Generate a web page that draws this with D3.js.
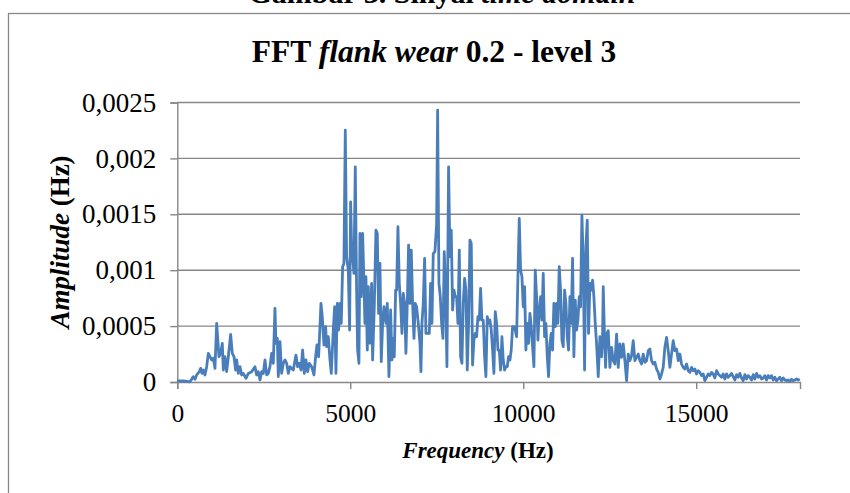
<!DOCTYPE html>
<html>
<head>
<meta charset="utf-8">
<script src="https://cdn.jsdelivr.net/npm/d3@7"></script>
<style>
  body { margin: 0; background: #fff; }
  text { font-family: "Liberation Serif", "Times New Roman", serif; fill: #000; }
</style>
</head>
<body>
<div id="chart"></div>
<script>
// frequency (Hz) and amplitude
var freqHz = [
  0, 174, 367, 463, 511, 560, 637, 675, 714, 752, 800, 849, 897, 945, 993, 1041, 1089, 1138, 1205, 1253,
  1301, 1330, 1378, 1427, 1475, 1542, 1590, 1639, 1687, 1716, 1764, 1812, 1860, 1908, 1985, 2053, 2149, 2245, 2294, 2342,
  2390, 2438, 2486, 2535, 2583, 2631, 2679, 2727, 2775, 2823, 2852, 2891, 2920, 2968, 3016, 3064, 3113, 3161, 3209, 3257,
  3353, 3430, 3478, 3527, 3575, 3623, 3671, 3719, 3767, 3816, 3883, 3950, 3999, 4037, 4085, 4124, 4153, 4191, 4239, 4288,
  4317, 4365, 4413, 4451, 4509, 4548, 4586, 4625, 4663, 4702, 4740, 4779, 4817, 4856, 4894, 4943, 4981, 5010, 5039, 5068,
  5106, 5145, 5183, 5212, 5251, 5280, 5318, 5357, 5386, 5424, 5453, 5492, 5521, 5569, 5617, 5646, 5694, 5742, 5781, 5819,
  5858, 5896, 5935, 5973, 6031, 6070, 6118,
  6166, 6205, 6243, 6272, 6311, 6340, 6378, 6417, 6455, 6494, 6532, 6571, 6609, 6648, 6686, 6725, 6763, 6802, 6841, 6879,
  6918, 6966, 7014, 7043, 7072, 7110, 7149, 7187, 7236, 7284, 7322, 7361, 7399, 7447, 7496, 7525, 7563, 7602, 7640, 7679,
  7717, 7756, 7794, 7842, 7881, 7919, 7958, 7997, 8035, 8074, 8112, 8151, 8189, 8228, 8266, 8305, 8343, 8382, 8420, 8459,
  8497, 8536, 8574, 8613, 8652, 8690, 8729, 8767, 8806, 8844, 8883, 8921, 8960, 8998, 9037, 9075, 9114, 9152, 9191, 9230,
  9268, 9307, 9345, 9384, 9422, 9461, 9499, 9538, 9576, 9615, 9653, 9692, 9730, 9769, 9808, 9846, 9885, 9923, 9962, 10000,
  10039, 10077, 10116, 10154, 10193, 10231, 10270, 10309, 10347, 10386, 10424, 10463, 10501, 10540, 10578, 10617, 10655, 10694, 10732, 10771,
  10809, 10848, 10886, 10925, 10963, 11002, 11040, 11079, 11118, 11156, 11195, 11233, 11272, 11310, 11349, 11387, 11426, 11464, 11503, 11541,
  11580, 11618, 11657, 11696, 11734, 11773, 11811, 11850, 11888, 11927, 11965, 12004, 12042, 12081, 12119, 12168,
  12216, 12264, 12293, 12312, 12351,
  12380, 12409, 12457, 12505, 12553, 12601, 12649, 12698, 12746, 12794, 12842, 12890, 12938, 12987, 13035, 13083, 13131, 13179, 13227, 13276,
  13324, 13372, 13420, 13468, 13516, 13565, 13613, 13661, 13709, 13757, 13805, 13854, 13902, 13950, 13998, 14046, 14094, 14143, 14191, 14239,
  14287, 14335, 14383, 14432, 14480, 14528, 14576, 14624, 14672, 14721, 14769, 14817, 14865, 14913, 14961, 15010, 15058, 15106, 15154, 15202,
  15250, 15299, 15347, 15395, 15443, 15491, 15539, 15588, 15636, 15684, 15732, 15780, 15828, 15877, 15925, 15973, 16021, 16069, 16117, 16166,
  16214, 16262, 16310, 16358, 16406, 16455, 16503, 16551, 16599, 16647, 16695, 16744, 16792, 16840, 16888, 16936, 16984, 17032, 17081, 17129,
  17177, 17225, 17273, 17321, 17370, 17418, 17466, 17514, 17562, 17610, 17658, 17707, 17755, 17803, 17851, 17899, 17947, 17996
];

var amplitude = [
  0.000009, 0.000009, 0.000002, 0.000048, 0.000024, 0.000063, 0.000092, 0.000122, 0.000077, 0.000107, 0.000063, 0.000137, 0.000256, 0.000226, 0.000197, 0.000212, 0.000122, 0.000524, 0.000226, 0.000256,
  0.000346, 0.000107, 0.000226, 0.000092, 0.000226, 0.000426, 0.000256, 0.000226, 0.000107, 0.000197, 0.000077, 0.000137, 0.000063, 0.000077, 0.000033, 0.000077, 0.000092, 0.000137, 0.000063, 0.000092,
  0.000018, 0.000092, 0.000077, 0.000197, 0.000063, 0.000077, 0.000137, 0.000256, 0.000167, 0.000659, 0.000346, 0.000390, 0.000048, 0.000361, 0.000077, 0.000167, 0.000197, 0.000167, 0.000077, 0.000137,
  0.000107, 0.000241, 0.000137, 0.000167, 0.000107, 0.000286, 0.000077, 0.000197, 0.000092, 0.000167, 0.000137, 0.000063, 0.000226, 0.000331, 0.000226, 0.000495, 0.000703, 0.000584, 0.000331, 0.000495,
  0.000316, 0.000405, 0.000197, 0.000077, 0.000465, 0.000673, 0.000077, 0.000703, 0.000465, 0.000703, 0.000524, 0.001031, 0.001061, 0.002253, 0.001120, 0.001001, 0.000465, 0.001612, 0.001210, 0.001120,
  0.000971, 0.001925, 0.000822, 0.000286, 0.000167, 0.001329, 0.000763, 0.001329, 0.001001, 0.000524, 0.000942, 0.000286, 0.000852, 0.000346, 0.000882, 0.000197, 0.000673, 0.001359, 0.001329, 0.000614,
  0.001061, 0.000182, 0.000524, 0.000673, 0.000524, 0.000703, 0.000048,
  0.000644, 0.000197, 0.000390, 0.000226, 0.000822, 0.000822, 0.001389, 0.000882, 0.000703, 0.000435, 0.000793, 0.000703, 0.000256, 0.000703, 0.001225, 0.000703, 0.001180, 0.000703, 0.000390, 0.000703,
  0.000673, 0.000524, 0.000346, 0.000092, 0.000524, 0.000703, 0.001106, 0.000435, 0.000435, 0.000435, 0.000882, 0.000524, 0.001150, 0.001165, 0.001418, 0.002432, 0.000882, 0.000763, 0.000524, 0.000390,
  0.001165, 0.000822, 0.000137, 0.001925, 0.001120, 0.001359, 0.000644, 0.000822, 0.000763, 0.000763, 0.000524, 0.001180, 0.000226, 0.000167, 0.000703, 0.000927, 0.000822, 0.000107, 0.000524, 0.001269,
  0.001240, 0.000152, 0.000375, 0.000435, 0.000405, 0.000584, 0.000554, 0.000837, 0.000554, 0.000554, 0.000226, 0.000048, 0.000584, 0.000524, 0.000554, 0.000465, 0.000286, 0.000077, 0.000629, 0.000524,
  0.000286, 0.000286, 0.000107, 0.000405, 0.000197, 0.000107, 0.000137, 0.000137, 0.000226, 0.000197, 0.000286, 0.000495, 0.000495, 0.000465, 0.000405, 0.000942, 0.001463, 0.001001, 0.000942, 0.000673,
  0.000852, 0.000286, 0.000524, 0.000346, 0.000614, 0.000495, 0.000316, 0.000137, 0.001001, 0.000763, 0.000375, 0.000644, 0.000763, 0.000554, 0.000971, 0.000405, 0.000524, 0.000226, 0.000048, 0.000346,
  0.000435, 0.000286, 0.000703, 0.000495, 0.000703, 0.000524, 0.001031, 0.000822, 0.000375, 0.000316, 0.000822, 0.000703, 0.000405, 0.000286, 0.000763, 0.000524, 0.001106, 0.000226, 0.000733, 0.000465,
  0.000554, 0.000763, 0.000673, 0.001493, 0.001061, 0.000107, 0.001210, 0.001448, 0.000435, 0.000882, 0.000822, 0.000912, 0.000763, 0.000524, 0.000346, 0.000048,
  0.000405, 0.000226, 0.000405, 0.000852, 0.000375,
  0.000131, 0.000429, 0.000459, 0.000131, 0.000310, 0.000191, 0.000161, 0.000429, 0.000131, 0.000340, 0.000221, 0.000340, 0.000191, 0.000012, 0.000250, 0.000191, 0.000235, 0.000370, 0.000191, 0.000221,
  0.000250, 0.000191, 0.000161, 0.000250, 0.000176, 0.000191, 0.000280, 0.000295, 0.000191, 0.000161, 0.000176, 0.000116, 0.000086, 0.000027, 0.000072, 0.000131, 0.000310, 0.000399, 0.000280, 0.000131,
  0.000250, 0.000370, 0.000280, 0.000295, 0.000191, 0.000250, 0.000161, 0.000131, 0.000116, 0.000161, 0.000101, 0.000086, 0.000131, 0.000101, 0.000116, 0.000072, 0.000101, 0.000086, 0.000057, 0.000072,
  0.000012, 0.000042, 0.000072, 0.000057, 0.000086, 0.000072, 0.000036, 0.000101, 0.000072, 0.000057, 0.000042, 0.000072, 0.000027, 0.000072, 0.000042, 0.000057, 0.000077, 0.000048, 0.000018, 0.000066,
  0.000042, 0.000077, 0.000036, 0.000012, 0.000066, 0.000027, 0.000057, 0.000042, 0.000018, 0.000066, 0.000027, 0.000077, 0.000042, 0.000057, 0.000027, 0.000036, 0.000057, 0.000018, 0.000057, 0.000036,
  0.000057, 0.000018, 0.000042, 0.000012, 0.000027, 0.000042, 0.000012, 0.000036, 0.000018, 0.000012, 0.000018, 0.000006, 0.000024, 0.000012, 0.000018, 0.000027, 0.000018, 0.000024
];

var xTicks = [0, 5000, 10000, 15000];
var xTickLabels = ['0', '5000', '10000', '15000'];
var yTicks = [0, 0.0005, 0.001, 0.0015, 0.002, 0.0025];
var yTickLabels = ['0', '0,0005', '0,001', '0,0015', '0,002', '0,0025'];

var width = 850, height = 493;
var margin = { left: 177.3, right: 50, top: 102.5, bottom: 111 };
var gridColor = '#878787';
var lineColor = '#4a7ebb';

var svg = d3.select('#chart')
  .append('svg')
    .attr('width', width)
    .attr('height', height);

// caption of the figure above, cut off by the page edge
svg.append('text')
  .attr('x', 442)
  .attr('y', 3)
  .attr('text-anchor', 'middle')
  .style('font-size', '30px')
  .style('font-weight', 'bold')
  .call(function(t) {
    t.append('tspan').text('Gambar 3. Sinyal ');
    t.append('tspan').style('font-style', 'italic').text('time domain');
  });

// chart area border
svg.append('rect')
  .attr('x', 8.5)
  .attr('y', 13.5)
  .attr('width', 850)
  .attr('height', 500)
  .attr('fill', 'none')
  .attr('stroke', gridColor)
  .attr('stroke-width', 1.3);

var x = d3.scaleLinear()
  .domain([0, 18000])
  .range([margin.left, width - margin.right]);

var y = d3.scaleLinear()
  .domain([0, 0.0025])
  .range([height - margin.bottom, margin.top]);

// horizontal gridlines
svg.append('g')
  .attr('class', 'grid')
  .selectAll('line')
  .data(yTicks.slice(1))
  .enter()
    .append('line')
      .attr('x1', x(0))
      .attr('x2', x(18000))
      .attr('y1', function(d) { return y(d); })
      .attr('y2', function(d) { return y(d); })
      .attr('stroke', gridColor)
      .attr('stroke-width', 1.4);

var yAxis = svg.append('g')
  .attr('transform', 'translate(' + x(0) + ',0)')
  .call(d3.axisLeft(y)
    .tickValues(yTicks)
    .tickSize(7)
    .tickPadding(14)
    .tickFormat(function(d, i) { return yTickLabels[i]; }));

var xAxis = svg.append('g')
  .attr('transform', 'translate(0,' + y(0) + ')')
  .call(d3.axisBottom(x)
    .tickValues(xTicks)
    .tickSize(7)
    .tickPadding(15)
    .tickFormat(function(d, i) { return xTickLabels[i]; }));

[xAxis, yAxis].forEach(function(ax) {
  ax.select('.domain').attr('stroke', gridColor).attr('stroke-width', 1.4);
  ax.selectAll('.tick line').attr('stroke', gridColor).attr('stroke-width', 1.4);
  ax.selectAll('.tick text')
    .style('font-family', '"Liberation Serif", serif')
    .style('font-size', ax === yAxis ? '27px' : '25.5px')
    .attr('fill', '#000');
});

var line = d3.line()
  .x(function(d) { return x(d[0]); })
  .y(function(d) { return y(d[1]); });

svg.append('path')
  .datum(d3.zip(freqHz, amplitude))
  .attr('d', line)
  .attr('fill', 'none')
  .attr('stroke', lineColor)
  .attr('stroke-width', 2.8)
  .attr('stroke-linejoin', 'round');

// titles
svg.append('text')
  .attr('x', 434)
  .attr('y', 62)
  .attr('text-anchor', 'middle')
  .style('font-size', '31.5px')
  .style('font-weight', 'bold')
  .call(function(t) {
    t.append('tspan').text('FFT ');
    t.append('tspan').style('font-style', 'italic').text('flank wear');
    t.append('tspan').text(' 0.2 - level 3');
  });

svg.append('text')
  .attr('x', 478)
  .attr('y', 458)
  .attr('text-anchor', 'middle')
  .style('font-size', '23px')
  .style('font-weight', 'bold')
  .call(function(t) {
    t.append('tspan').style('font-style', 'italic').text('Frequency');
    t.append('tspan').text(' (Hz)');
  });

svg.append('text')
  .attr('transform', 'translate(69,242) rotate(-90)')
  .attr('text-anchor', 'middle')
  .style('font-size', '27px')
  .style('font-weight', 'bold')
  .call(function(t) {
    t.append('tspan').style('font-style', 'italic').text('Amplitude');
    t.append('tspan').text(' (Hz)');
  });
</script>
</body>
</html>
